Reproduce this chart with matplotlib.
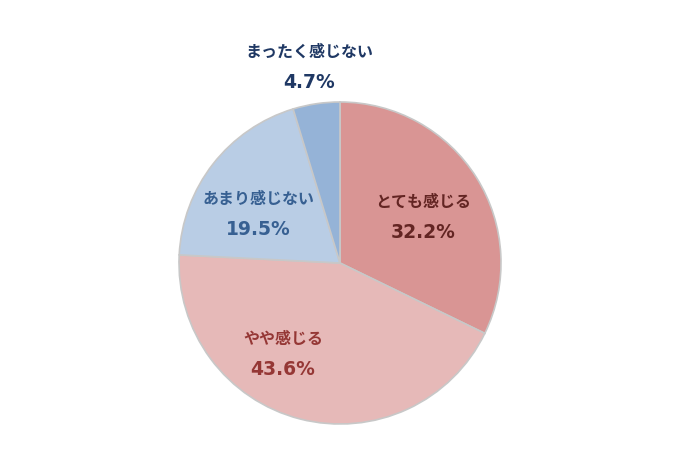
import matplotlib.pyplot as plt

plt.rcParams['font.family'] = ['Noto Sans CJK JP', 'DejaVu Sans']

# データ
labels = ['とても感じる', 'やや感じる', 'あまり感じない', 'まったく感じない']
values = [32.2, 43.6, 19.5, 4.7]

colors = ['#d99594', '#e6b9b8', '#b9cde5', '#95b3d7']
text_colors = ['#632523', '#953735', '#376092', '#1f3864']
# ラベル位置 (半径=1 の座標)
label_pos = [(0.516, 0.286), (-0.354, -0.568), (-0.509, 0.304), (-0.193, 1.217)]

fig = plt.figure(figsize=(7, 4.62), dpi=100)
cx, cy, r = 340, 263, 161
ax = fig.add_axes([(cx - r) / 700, (462 - cy - r) / 462, 2 * r / 700, 2 * r / 462])
ax.pie(values, colors=colors, startangle=90, counterclock=False,
       wedgeprops=dict(edgecolor='#c8c8c8', linewidth=1.2))
ax.set_xlim(-1, 1)
ax.set_ylim(-1, 1)
ax.set_aspect('equal')
ax.axis('off')

for lab, val, (x, y), c in zip(labels, values, label_pos, text_colors):
    ax.text(x, y + 0.096, lab, ha='center', va='center', fontsize=11.5,
            fontweight='bold', color=c, clip_on=False)
    ax.text(x, y - 0.096, f'{val:.1f}%', ha='center', va='center', fontsize=13.5,
            fontweight='bold', color=c, family=['DejaVu Sans'], clip_on=False)

fig.savefig('out.png', dpi=100)
